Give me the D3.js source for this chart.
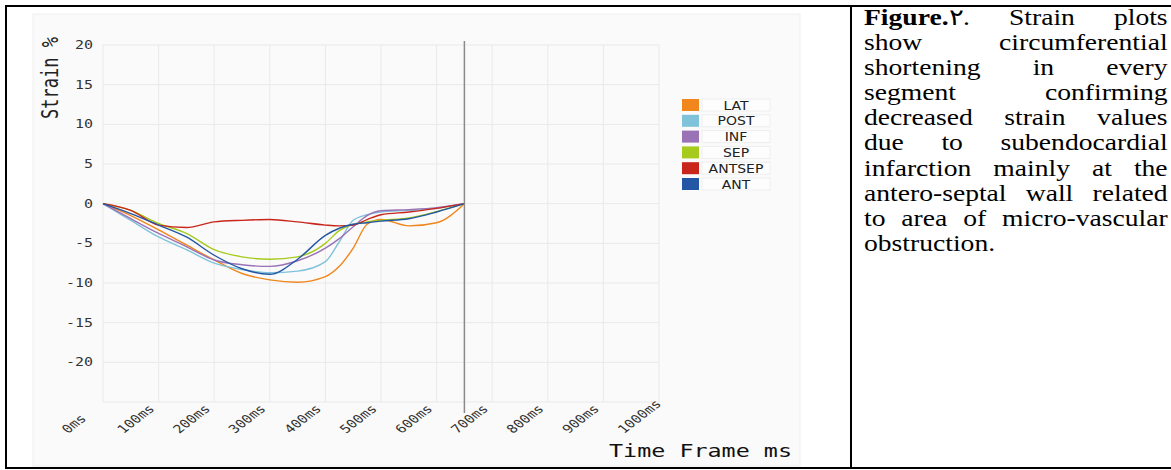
<!DOCTYPE html>
<html>
<head>
<meta charset="utf-8">
<script src="https://cdn.jsdelivr.net/npm/d3@7"></script>
<style>
  body { margin:0; background:#fff; width:1171px; height:470px; overflow:hidden; position:relative; }
  #caption { position:absolute; left:864px; top:5px; width:253px; font-family:"Liberation Serif","Times New Roman",serif; font-size:23px; line-height:25.1px; color:#000; transform:scaleX(1.2); transform-origin:0 0; }
  #caption div { text-align:justify; text-align-last:justify; white-space:nowrap; }
  #caption div.last { text-align-last:left; }
</style>
</head>
<body>
<svg id="svg" width="1171" height="470" style="position:absolute;left:0;top:0"></svg>
<div id="caption"></div>
<script>
// time frames (ms)
const times = [0, 50, 100, 150, 200, 250, 300, 350, 400, 425, 450, 475, 500, 550, 600, 650];
const LAT    = [0, -1.5, -3.3, -5.2, -7.1, -8.8, -9.6, -9.9, -9.2, -7.9, -5.6, -2.6, -2.0, -2.8, -2.4, 0];
const POST   = [0, -2.1, -4.2, -5.8, -7.5, -8.3, -8.7, -8.5, -7.3, -4.8, -2.1, -1.4, -1.05, -0.85, -0.6, 0];
const INF    = [0, -1.9, -3.75, -5.4, -7.1, -7.7, -7.9, -7.2, -5.6, -4.4, -2.9, -1.5, -0.9, -0.75, -0.5, 0];
const SEP    = [0, -0.85, -2.5, -3.75, -5.8, -6.7, -7.0, -6.7, -5.0, -3.4, -2.6, -2.3, -2.1, -1.8, -1.0, 0];
const ANTSEP = [0, -0.85, -2.7, -3.0, -2.3, -2.1, -2.0, -2.3, -2.7, -2.8, -2.7, -2.0, -1.4, -1.05, -0.6, 0];
const ANT    = [0, -1.25, -2.7, -4.2, -6.5, -8.2, -8.9, -7.0, -4.0, -3.1, -2.6, -2.4, -2.2, -1.9, -1.05, 0];

const seriesNames = ["LAT", "POST", "INF", "SEP", "ANTSEP", "ANT"];
const seriesValues = [LAT, POST, INF, SEP, ANTSEP, ANT];
const colors = ["#f0861c", "#7fc3da", "#9a72b6", "#a7cb1c", "#c9261b", "#2356a5"];

const xTicks = [0, 100, 200, 300, 400, 500, 600, 700, 800, 900, 1000];
const yTicks = [20, 15, 10, 5, 0, -5, -10, -15, -20];
const markerTime = 650;

const captionLines = [
  "<b>Figure.</b>٢. Strain plots",
  "show circumferential",
  "shortening in every",
  "segment confirming",
  "decreased strain values",
  "due to subendocardial",
  "infarction mainly at the",
  "antero-septal wall related",
  "to area of micro-vascular",
  "obstruction."
];

// the source picture is stretched sideways, so text gets a horizontal scale
const stretch = 1.3;

let svg = d3.select("#svg");

// table borders
svg.append("rect").attr("x", 6).attr("y", 6).attr("width", 1180).attr("height", 462)
  .attr("fill", "none").attr("stroke", "#000").attr("stroke-width", 2);
svg.append("line").attr("x1", 851).attr("x2", 851).attr("y1", 6).attr("y2", 468)
  .attr("stroke", "#000").attr("stroke-width", 2);

// chart panel
svg.append("rect").attr("x", 33).attr("y", 14).attr("width", 767).attr("height", 452)
  .attr("fill", "#fafafa").attr("stroke", "#efefef");

let x = d3.scaleLinear().domain([0, 1000]).range([103, 659]);
let y = d3.scaleLinear().domain([-25, 20]).range([402, 45]);

let graph = svg.append("g");

// grid
graph.append("g").selectAll("line").data(xTicks).enter().append("line")
  .attr("x1", d => x(d)).attr("x2", d => x(d))
  .attr("y1", y(20)).attr("y2", y(-25))
  .attr("stroke", "#e9e9e9").attr("stroke-width", 1);
graph.append("g").selectAll("line").data(yTicks.concat([-25])).enter().append("line")
  .attr("x1", x(0)).attr("x2", x(1000))
  .attr("y1", d => y(d)).attr("y2", d => y(d))
  .attr("stroke", "#e9e9e9").attr("stroke-width", 1);

// y tick labels
graph.append("g").selectAll("text").data(yTicks).enter().append("text")
  .attr("transform", d => "translate(93," + y(d) + ") scale(" + stretch + ",1)")
  .attr("dy", "0.36em")
  .attr("text-anchor", "end")
  .style("font-family", "DejaVu Sans Mono, monospace")
  .style("font-size", "11.5px")
  .attr("fill", "#333")
  .text(d => d);

// x tick labels
graph.append("g").selectAll("text").data(xTicks).enter().append("text")
  .attr("transform", d => "translate(" + (x(d) - 35) + ",434) scale(" + stretch + ",1) rotate(-45)")
  .attr("text-anchor", "start")
  .style("font-family", "DejaVu Sans Mono, monospace")
  .style("font-size", "11.5px")
  .attr("fill", "#333")
  .text(d => d + "ms");

// axis titles
svg.append("text")
  .attr("transform", "translate(58,78) scale(" + stretch + ",1) rotate(-90)")
  .attr("text-anchor", "middle")
  .style("font-family", "DejaVu Sans Mono, monospace")
  .style("font-size", "17px")
  .attr("fill", "#222")
  .text("Strain %");
svg.append("text")
  .attr("transform", "translate(609,457) scale(" + stretch + ",1)")
  .style("font-family", "DejaVu Sans Mono, monospace")
  .style("font-size", "18px")
  .attr("fill", "#111")
  .text("Time Frame ms");

// curves
let line = d3.line()
  .x((d, i) => x(times[i]))
  .y(d => y(d))
  .curve(d3.curveMonotoneX);

graph.append("g").selectAll("path").data(seriesValues).enter().append("path")
  .attr("d", d => line(d))
  .attr("fill", "none")
  .attr("stroke", (d, i) => colors[i])
  .attr("stroke-width", 1.4);

// marker line at end of cycle
graph.append("line")
  .attr("x1", x(markerTime)).attr("x2", x(markerTime))
  .attr("y1", 41).attr("y2", 413)
  .attr("stroke", "#8a8a8a").attr("stroke-width", 1.5);

// legend
let legend = svg.append("g").selectAll("g").data(seriesNames).enter().append("g")
  .attr("transform", (d, i) => "translate(682," + (105 + i * 15.8) + ")");
legend.append("rect").attr("x", 20).attr("y", -6).attr("width", 68).attr("height", 12)
  .attr("fill", "#fdfdfd").attr("stroke", "#eeeeee");
legend.append("rect").attr("x", 0).attr("y", -6).attr("width", 17).attr("height", 12)
  .attr("fill", (d, i) => colors[i]);
legend.append("text")
  .attr("transform", "translate(54,0) scale(1.12,1)")
  .attr("dy", "0.36em")
  .attr("text-anchor", "middle")
  .style("font-family", "DejaVu Sans, sans-serif")
  .style("font-size", "12.5px")
  .attr("fill", "#222")
  .text(d => d);

// caption
d3.select("#caption").selectAll("div").data(captionLines).enter().append("div")
  .attr("class", (d, i) => i === captionLines.length - 1 ? "last" : null)
  .html(d => d);
</script>
</body>
</html>
